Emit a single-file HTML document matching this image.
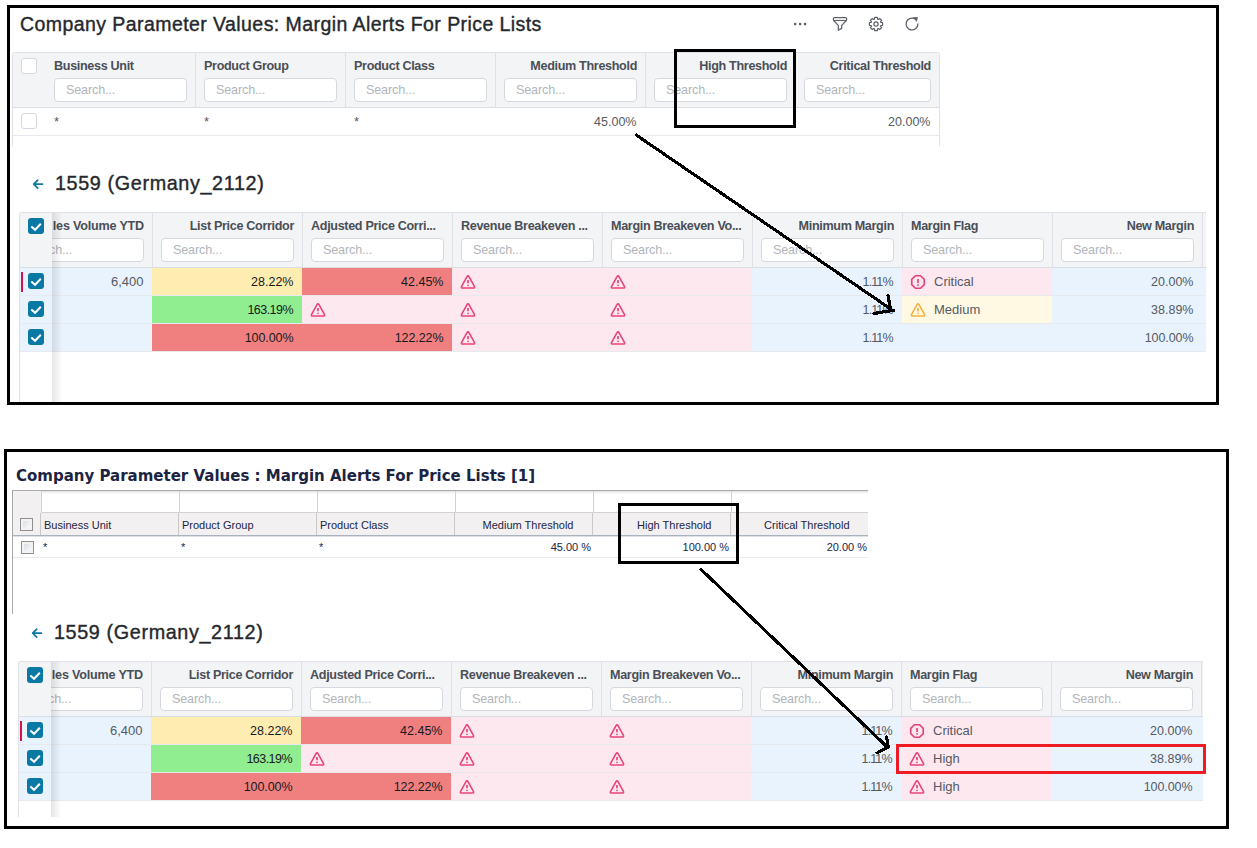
<!DOCTYPE html>
<html lang="en">
<head>
<meta charset="utf-8">
<title>Company Parameter Values: Margin Alerts For Price Lists</title>
<style>
*{box-sizing:border-box;margin:0;padding:0}
html,body{width:1257px;height:848px;overflow:hidden;background:#fff}
body{position:relative;font-family:"Liberation Sans",Arial,sans-serif;color:#2b2f36}
.abs{position:absolute}
.frame{position:absolute;border:3px solid #000;z-index:20;pointer-events:none}
/* modern UI */
.m-title{position:absolute;white-space:nowrap;font-size:19.5px;line-height:24px;letter-spacing:.43px;color:#25282d;-webkit-text-stroke:.38px #25282d}
.m-sub{position:absolute;white-space:nowrap;font-size:19.8px;line-height:24px;letter-spacing:.62px;color:#25282d;-webkit-text-stroke:.38px #25282d}
.m-grid{position:absolute;background:#fff}
.m-head{position:absolute;left:0;top:0;height:56px;background:#f3f4f6;border-top:1px solid #dfe1e6;border-bottom:1px solid #d9dce1}
.m-sep{position:absolute;top:1px;width:1px;height:54px;background:#dfe1e6}
.m-lbl{position:absolute;top:6px;height:16px;line-height:16px;font-size:12.6px;letter-spacing:-.33px;font-weight:bold;color:#4a4f57;white-space:nowrap}
.m-lbl.r{text-align:right}
.m-in{position:absolute;top:26px;height:24px;border:1px solid #d5d8de;border-radius:4px;background:#fff;font-size:12.6px;letter-spacing:-.15px;line-height:22px;color:#b1b5bc;padding-left:11px;white-space:nowrap;overflow:hidden}
.m-cell{position:absolute;height:28px;line-height:28px;font-size:13px;white-space:nowrap;color:#555a63}
.m-cell.r{text-align:right}
.m-cell.p{font-size:12.5px}
.m-cell.d{color:#17191d}
.m-row{position:absolute;left:0;height:28px;border-bottom:1px solid #e6e9ee}
.cb{position:absolute;width:16px;height:16px;border:1px solid #d5d8de;border-radius:3px;background:#fff}
.cbx{position:absolute;width:16px;height:16px;border-radius:3px;background:#0878a5}
.cbx svg{position:absolute;left:0;top:0}
.ico{position:absolute}
/* classic UI */
.c-title{position:absolute;white-space:nowrap;font-family:"DejaVu Sans","Liberation Sans",sans-serif;font-weight:bold;font-size:15px;line-height:20px;color:#1b2443}
.c-txt{position:absolute;white-space:nowrap;font-size:11px;line-height:14px;color:#1d2545}
.c-cb{position:absolute;width:13px;height:13px;border:1px solid #8e8f8f;background:linear-gradient(135deg,#d3d7dc 0%,#eef0f2 60%,#fff 100%);box-shadow:inset 0 0 0 2px #f3f3f3}

</style>
</head>
<body>
<div class="m-title" style="left:20px;top:11.5px">Company Parameter Values: Margin Alerts For Price Lists</div>
<svg class="abs" style="left:792px;top:20px" width="16" height="8" viewBox="0 0 16 8"><circle cx="3.2" cy="4.1" r="1.3" fill="#5d626b"/><circle cx="8.1" cy="4.1" r="1.3" fill="#5d626b"/><circle cx="13" cy="4.1" r="1.3" fill="#5d626b"/></svg>
<svg class="abs" style="left:832px;top:16px" width="16" height="16" viewBox="0 0 16 16"><path d="M2.4 1.5 H13.6 Q14.6 1.5 14.6 2.5 V3.6 Q14.6 4.2 14.2 4.7 L9.7 9.4 V12.4 L6.3 14.3 V9.4 L1.8 4.7 Q1.4 4.2 1.4 3.6 V2.5 Q1.4 1.5 2.4 1.5 Z" fill="none" stroke="#5d626b" stroke-width="1.25" stroke-linejoin="round"/><path d="M1.6 4.5 H14.4" stroke="#5d626b" stroke-width="1.1"/></svg>
<svg class="abs" style="left:868px;top:16px" width="16" height="16" viewBox="0 0 16 16"><path d="M6.67 1.43 L9.33 1.43 L9.51 3.13 L10.38 3.49 L11.70 2.42 L13.58 4.30 L12.51 5.62 L12.87 6.49 L14.57 6.67 L14.57 9.33 L12.87 9.51 L12.51 10.38 L13.58 11.70 L11.70 13.58 L10.38 12.51 L9.51 12.87 L9.33 14.57 L6.67 14.57 L6.49 12.87 L5.62 12.51 L4.30 13.58 L2.42 11.70 L3.49 10.38 L3.13 9.51 L1.43 9.33 L1.43 6.67 L3.13 6.49 L3.49 5.62 L2.42 4.30 L4.30 2.42 L5.62 3.49 L6.49 3.13 Z" fill="none" stroke="#5d626b" stroke-width="1.2" stroke-linejoin="round"/><circle cx="8" cy="8" r="2.1" fill="none" stroke="#5d626b" stroke-width="1.2"/></svg>
<svg class="abs" style="left:904px;top:16px" width="16" height="16" viewBox="0 0 16 16"><path d="M13.9 8 A5.9 5.9 0 1 1 10.6 2.7" fill="none" stroke="#5d626b" stroke-width="1.3" stroke-linecap="round"/><path d="M8.9 0.9 L14 1.3 L12.7 5.9 Z" fill="#5d626b"/></svg>
<div class="m-grid" style="left:12px;top:52px;width:928px;height:94px;overflow:hidden;border-left:1px solid #dfe1e6;border-right:1px solid #dfe1e6;border-radius:3px 3px 0 0">
<div class="m-head" style="width:928px"></div>
<div class="cb" style="left:8px;top:6px"></div>
<div class="cb" style="left:8px;top:61px"></div>
<div class="m-sep" style="left:182px"></div>
<div class="m-lbl" style="left:41px">Business Unit</div>
<div class="m-in" style="left:41px;width:133px">Search...</div>
<div class="m-cell" style="left:41px;top:56px">*</div>
<div class="m-sep" style="left:332px"></div>
<div class="m-lbl" style="left:191px">Product Group</div>
<div class="m-in" style="left:191px;width:133px">Search...</div>
<div class="m-cell" style="left:191px;top:56px">*</div>
<div class="m-sep" style="left:482px"></div>
<div class="m-lbl" style="left:341px">Product Class</div>
<div class="m-in" style="left:341px;width:133px">Search...</div>
<div class="m-cell" style="left:341px;top:56px">*</div>
<div class="m-sep" style="left:632px"></div>
<div class="m-lbl r" style="left:491px;width:133px">Medium Threshold</div>
<div class="m-in" style="left:491px;width:133px">Search...</div>
<div class="m-cell r p" style="left:491px;top:56px;width:132.5px">45.00%</div>
<div class="m-sep" style="left:782px"></div>
<div class="m-lbl r" style="left:641px;width:133px">High Threshold</div>
<div class="m-in" style="left:641px;width:133px">Search...</div>
<div class="m-lbl r" style="left:791px;width:127px">Critical Threshold</div>
<div class="m-in" style="left:791px;width:127px">Search...</div>
<div class="m-cell r p" style="left:791px;top:56px;width:126.5px">20.00%</div>
<div class="abs" style="left:0;top:83px;width:928px;height:1px;background:#e6e9ee"></div>
</div>
<svg class="abs" style="left:32px;top:178px" width="12" height="12" viewBox="0 0 12 12"><path d="M10.4 6.2 H2 M5.7 2.2 L1.7 6.2 L5.7 10.2" fill="none" stroke="#0b79a3" stroke-width="1.75" stroke-linecap="round" stroke-linejoin="round"/></svg>
<div class="m-sub" style="left:55px;top:171px">1559 (Germany_2112)</div>
<div class="m-grid" style="left:19px;top:212px;width:1187px;height:190px;overflow:hidden;border-left:1px solid #dfe1e6;border-top-left-radius:3px">
<div class="m-head" style="width:1187px"></div>
<div class="m-sep" style="left:132px"></div>
<div class="m-lbl r" style="left:-9px;width:133px"><span style="letter-spacing:-.2px"><span style="margin-right:3px">Sa</span>les Volume YTD</span></div>
<div class="m-in" style="left:-9px;width:133px">Search...</div>
<div class="m-sep" style="left:282px"></div>
<div class="m-lbl r" style="left:141px;width:133px">List Price Corridor</div>
<div class="m-in" style="left:141px;width:133px">Search...</div>
<div class="m-sep" style="left:432px"></div>
<div class="m-lbl" style="left:291px">Adjusted Price Corri...</div>
<div class="m-in" style="left:291px;width:133px">Search...</div>
<div class="m-sep" style="left:582px"></div>
<div class="m-lbl" style="left:441px">Revenue Breakeven ...</div>
<div class="m-in" style="left:441px;width:133px">Search...</div>
<div class="m-sep" style="left:732px"></div>
<div class="m-lbl" style="left:591px">Margin Breakeven Vo...</div>
<div class="m-in" style="left:591px;width:133px">Search...</div>
<div class="m-sep" style="left:882px"></div>
<div class="m-lbl r" style="left:741px;width:133px">Minimum Margin</div>
<div class="m-in" style="left:741px;width:133px">Search...</div>
<div class="m-sep" style="left:1032px"></div>
<div class="m-lbl" style="left:891px">Margin Flag</div>
<div class="m-in" style="left:891px;width:133px">Search...</div>
<div class="m-sep" style="left:1182px"></div>
<div class="m-lbl r" style="left:1041px;width:133px">New Margin</div>
<div class="m-in" style="left:1041px;width:133px">Search...</div>
<div class="m-row" style="top:56px;width:1187px;background:#e8f3fe"></div>
<div class="m-cell r" style="left:-9px;top:56px;width:132.5px">6,400</div>
<div class="abs" style="left:132px;top:56px;width:150px;height:27px;background:#fdedb0"></div>
<div class="m-cell r p d" style="left:141px;top:56px;width:132.5px">28.22%</div>
<div class="abs" style="left:282px;top:56px;width:150px;height:27px;background:#f08080"></div>
<div class="m-cell r p d" style="left:291px;top:56px;width:132.5px">42.45%</div>
<div class="abs" style="left:432px;top:56px;width:150px;height:27px;background:#fde8ef"></div>
<svg class="ico" style="left:440px;top:63px" width="16" height="15" viewBox="0 0 16 15"><path d="M6.87 1.90 Q8.00 -0.10 9.13 1.90 L14.27 11.05 Q15.40 13.05 13.10 13.05 L2.90 13.05 Q0.60 13.05 1.73 11.05 Z" fill="none" stroke="#e7447b" stroke-width="1.6" stroke-linejoin="round"/><path d="M8 4.9 V8.2" stroke="#e7447b" stroke-width="1.7"/><circle cx="8" cy="10.3" r=".85" fill="#e7447b"/></svg>
<div class="abs" style="left:582px;top:56px;width:150px;height:27px;background:#fde8ef"></div>
<svg class="ico" style="left:590px;top:63px" width="16" height="15" viewBox="0 0 16 15"><path d="M6.87 1.90 Q8.00 -0.10 9.13 1.90 L14.27 11.05 Q15.40 13.05 13.10 13.05 L2.90 13.05 Q0.60 13.05 1.73 11.05 Z" fill="none" stroke="#e7447b" stroke-width="1.6" stroke-linejoin="round"/><path d="M8 4.9 V8.2" stroke="#e7447b" stroke-width="1.7"/><circle cx="8" cy="10.3" r=".85" fill="#e7447b"/></svg>
<div class="m-cell r p" style="left:741px;top:56px;width:132.5px;letter-spacing:-0.9px;padding-right:0.9px">1.11%</div>
<div class="abs" style="left:882px;top:56px;width:150px;height:27px;background:#fde8ef"></div>
<svg class="ico" style="left:890px;top:62px" width="16" height="16" viewBox="0 0 16 16"><path d="M5.4 1.75 H10.6 L14.25 5.4 V10.6 L10.6 14.25 H5.4 L1.75 10.6 V5.4 Z" fill="none" stroke="#e7447b" stroke-width="1.7" stroke-linejoin="round"/><path d="M8 5.1 V8.9" stroke="#e7447b" stroke-width="1.7"/><circle cx="8" cy="10.9" r=".9" fill="#e7447b"/></svg>
<div class="m-cell" style="left:914px;top:56px">Critical</div>
<div class="m-cell r p" style="left:1041px;top:56px;width:132.5px">20.00%</div>
<div class="m-row" style="top:84px;width:1187px;background:#e8f3fe"></div>
<div class="abs" style="left:132px;top:84px;width:150px;height:27px;background:#90ee90"></div>
<div class="m-cell r p d" style="left:141px;top:84px;width:132.5px;letter-spacing:-0.55px;padding-right:0.55px">163.19%</div>
<div class="abs" style="left:282px;top:84px;width:150px;height:27px;background:#fde8ef"></div>
<svg class="ico" style="left:290px;top:91px" width="16" height="15" viewBox="0 0 16 15"><path d="M6.87 1.90 Q8.00 -0.10 9.13 1.90 L14.27 11.05 Q15.40 13.05 13.10 13.05 L2.90 13.05 Q0.60 13.05 1.73 11.05 Z" fill="none" stroke="#e7447b" stroke-width="1.6" stroke-linejoin="round"/><path d="M8 4.9 V8.2" stroke="#e7447b" stroke-width="1.7"/><circle cx="8" cy="10.3" r=".85" fill="#e7447b"/></svg>
<div class="abs" style="left:432px;top:84px;width:150px;height:27px;background:#fde8ef"></div>
<svg class="ico" style="left:440px;top:91px" width="16" height="15" viewBox="0 0 16 15"><path d="M6.87 1.90 Q8.00 -0.10 9.13 1.90 L14.27 11.05 Q15.40 13.05 13.10 13.05 L2.90 13.05 Q0.60 13.05 1.73 11.05 Z" fill="none" stroke="#e7447b" stroke-width="1.6" stroke-linejoin="round"/><path d="M8 4.9 V8.2" stroke="#e7447b" stroke-width="1.7"/><circle cx="8" cy="10.3" r=".85" fill="#e7447b"/></svg>
<div class="abs" style="left:582px;top:84px;width:150px;height:27px;background:#fde8ef"></div>
<svg class="ico" style="left:590px;top:91px" width="16" height="15" viewBox="0 0 16 15"><path d="M6.87 1.90 Q8.00 -0.10 9.13 1.90 L14.27 11.05 Q15.40 13.05 13.10 13.05 L2.90 13.05 Q0.60 13.05 1.73 11.05 Z" fill="none" stroke="#e7447b" stroke-width="1.6" stroke-linejoin="round"/><path d="M8 4.9 V8.2" stroke="#e7447b" stroke-width="1.7"/><circle cx="8" cy="10.3" r=".85" fill="#e7447b"/></svg>
<div class="m-cell r p" style="left:741px;top:84px;width:132.5px;letter-spacing:-0.9px;padding-right:0.9px">1.11%</div>
<div class="abs" style="left:882px;top:84px;width:150px;height:27px;background:#fff8e3"></div>
<svg class="ico" style="left:890px;top:91px" width="16" height="15" viewBox="0 0 16 15"><path d="M6.87 1.90 Q8.00 -0.10 9.13 1.90 L14.27 11.05 Q15.40 13.05 13.10 13.05 L2.90 13.05 Q0.60 13.05 1.73 11.05 Z" fill="none" stroke="#f5b23f" stroke-width="1.6" stroke-linejoin="round"/><path d="M8 4.9 V8.2" stroke="#f5b23f" stroke-width="1.7"/><circle cx="8" cy="10.3" r=".85" fill="#f5b23f"/></svg>
<div class="m-cell" style="left:914px;top:84px">Medium</div>
<div class="m-cell r p" style="left:1041px;top:84px;width:132.5px">38.89%</div>
<div class="m-row" style="top:112px;width:1187px;background:#e8f3fe"></div>
<div class="abs" style="left:132px;top:112px;width:150px;height:27px;background:#f08080"></div>
<div class="m-cell r p d" style="left:141px;top:112px;width:132.5px;letter-spacing:-0.1px;padding-right:0.1px">100.00%</div>
<div class="abs" style="left:282px;top:112px;width:150px;height:27px;background:#f08080"></div>
<div class="m-cell r p d" style="left:291px;top:112px;width:132.5px;letter-spacing:-0.1px;padding-right:0.1px">122.22%</div>
<div class="abs" style="left:432px;top:112px;width:150px;height:27px;background:#fde8ef"></div>
<svg class="ico" style="left:440px;top:119px" width="16" height="15" viewBox="0 0 16 15"><path d="M6.87 1.90 Q8.00 -0.10 9.13 1.90 L14.27 11.05 Q15.40 13.05 13.10 13.05 L2.90 13.05 Q0.60 13.05 1.73 11.05 Z" fill="none" stroke="#e7447b" stroke-width="1.6" stroke-linejoin="round"/><path d="M8 4.9 V8.2" stroke="#e7447b" stroke-width="1.7"/><circle cx="8" cy="10.3" r=".85" fill="#e7447b"/></svg>
<div class="abs" style="left:582px;top:112px;width:150px;height:27px;background:#fde8ef"></div>
<svg class="ico" style="left:590px;top:119px" width="16" height="15" viewBox="0 0 16 15"><path d="M6.87 1.90 Q8.00 -0.10 9.13 1.90 L14.27 11.05 Q15.40 13.05 13.10 13.05 L2.90 13.05 Q0.60 13.05 1.73 11.05 Z" fill="none" stroke="#e7447b" stroke-width="1.6" stroke-linejoin="round"/><path d="M8 4.9 V8.2" stroke="#e7447b" stroke-width="1.7"/><circle cx="8" cy="10.3" r=".85" fill="#e7447b"/></svg>
<div class="m-cell r p" style="left:741px;top:112px;width:132.5px;letter-spacing:-0.9px;padding-right:0.9px">1.11%</div>
<div class="m-cell r p" style="left:1041px;top:112px;width:132.5px;letter-spacing:-0.1px;padding-right:0.1px">100.00%</div>
<div class="abs" style="left:32px;top:1px;width:10px;height:190px;background:linear-gradient(90deg,rgba(0,0,0,.10),rgba(0,0,0,0))"></div>
<div class="abs" style="left:0;top:1px;width:32px;height:54px;background:#f3f4f6"></div>
<div class="abs" style="left:0;top:56px;width:32px;height:190px;background:#fff"></div>
<div class="abs" style="left:0;top:56px;width:32px;height:27px;background:#e8f3fe"></div>
<div class="abs" style="left:0;top:83px;width:32px;height:1px;background:#e6e9ee"></div>
<div class="cbx" style="left:8px;top:61px"><svg width="16" height="16" viewBox="0 0 16 16"><path d="M3.3 8.4 L7.1 11.8 L12.8 5.8" fill="none" stroke="#fff" stroke-width="2"/></svg></div>
<div class="abs" style="left:0;top:84px;width:32px;height:27px;background:#e8f3fe"></div>
<div class="abs" style="left:0;top:111px;width:32px;height:1px;background:#e6e9ee"></div>
<div class="cbx" style="left:8px;top:89px"><svg width="16" height="16" viewBox="0 0 16 16"><path d="M3.3 8.4 L7.1 11.8 L12.8 5.8" fill="none" stroke="#fff" stroke-width="2"/></svg></div>
<div class="abs" style="left:0;top:112px;width:32px;height:27px;background:#e8f3fe"></div>
<div class="abs" style="left:0;top:139px;width:32px;height:1px;background:#e6e9ee"></div>
<div class="cbx" style="left:8px;top:117px"><svg width="16" height="16" viewBox="0 0 16 16"><path d="M3.3 8.4 L7.1 11.8 L12.8 5.8" fill="none" stroke="#fff" stroke-width="2"/></svg></div>
<div class="abs" style="left:0;top:55px;width:32px;height:1px;background:#d9dce1"></div>
<div class="cbx" style="left:8px;top:6px"><svg width="16" height="16" viewBox="0 0 16 16"><path d="M3.3 8.4 L7.1 11.8 L12.8 5.8" fill="none" stroke="#fff" stroke-width="2"/></svg></div>
<div class="abs" style="left:1px;top:60px;width:2px;height:20px;background:#d5104b"></div>
</div>
<div class="c-title" style="left:16px;top:466px">Company Parameter Values : Margin Alerts For Price Lists [1]</div>
<div class="abs" style="left:12px;top:490px;width:856px;height:124px;overflow:hidden;border-left:1px solid #a9a9a9;border-top:1px solid #a9a9a9;background:#fff">
<div class="abs" style="left:0;top:0;width:856px;height:3px;background:linear-gradient(180deg,#e2e2e2,#fff)"></div>
<div class="abs" style="left:0;top:0;width:28px;height:45px;background:#f2f0f1"></div>
<div class="abs" style="left:28px;top:22px;width:856px;height:23px;background:#f2f0f1"></div>
<div class="abs" style="left:28px;top:0;width:1px;height:22px;background:#d2d2d2"></div>
<div class="abs" style="left:27px;top:22px;width:1px;height:23px;background:#c8c8c8"></div>
<div class="abs" style="left:166px;top:0;width:1px;height:22px;background:#d2d2d2"></div>
<div class="abs" style="left:165px;top:22px;width:1px;height:23px;background:#c8c8c8"></div>
<div class="abs" style="left:304px;top:0;width:1px;height:22px;background:#d2d2d2"></div>
<div class="abs" style="left:303px;top:22px;width:1px;height:23px;background:#c8c8c8"></div>
<div class="abs" style="left:442px;top:0;width:1px;height:22px;background:#d2d2d2"></div>
<div class="abs" style="left:441px;top:22px;width:1px;height:23px;background:#c8c8c8"></div>
<div class="abs" style="left:580px;top:0;width:1px;height:22px;background:#d2d2d2"></div>
<div class="abs" style="left:579px;top:22px;width:1px;height:23px;background:#c8c8c8"></div>
<div class="abs" style="left:718px;top:0;width:1px;height:22px;background:#d2d2d2"></div>
<div class="abs" style="left:717px;top:22px;width:1px;height:23px;background:#c8c8c8"></div>
<div class="abs" style="left:28px;top:21px;width:856px;height:1px;background:#d2d2d2"></div>
<div class="abs" style="left:0;top:44px;width:856px;height:1px;background:#a9b3c0"></div>
<div class="abs" style="left:0;top:45px;width:856px;height:1px;background:#dde1e7"></div>
<div class="abs" style="left:0;top:66px;width:856px;height:1px;background:#e9e9e9"></div>
<div class="c-cb" style="left:7px;top:27px"></div>
<div class="c-cb" style="left:8px;top:50px"></div>
<div class="c-txt" style="left:31px;top:27px">Business Unit</div>
<div class="c-txt" style="left:30px;top:49px">*</div>
<div class="c-txt" style="left:169px;top:27px">Product Group</div>
<div class="c-txt" style="left:168px;top:49px">*</div>
<div class="c-txt" style="left:307px;top:27px">Product Class</div>
<div class="c-txt" style="left:306px;top:49px">*</div>
<div class="c-txt" style="left:442px;top:27px;width:118.5px;text-align:right">Medium Threshold</div>
<div class="c-txt" style="left:442px;top:49px;width:136px;text-align:right">45.00 %</div>
<div class="c-txt" style="left:580px;top:27px;width:118.5px;text-align:right">High Threshold</div>
<div class="c-txt" style="left:580px;top:49px;width:136px;text-align:right">100.00 %</div>
<div class="c-txt" style="left:718px;top:27px;width:118.5px;text-align:right">Critical Threshold</div>
<div class="c-txt" style="left:718px;top:49px;width:136px;text-align:right">20.00 %</div>
</div>
<svg class="abs" style="left:31px;top:627px" width="12" height="12" viewBox="0 0 12 12"><path d="M10.4 6.2 H2 M5.7 2.2 L1.7 6.2 L5.7 10.2" fill="none" stroke="#0b79a3" stroke-width="1.75" stroke-linecap="round" stroke-linejoin="round"/></svg>
<div class="m-sub" style="left:54px;top:620px">1559 (Germany_2112)</div>
<div class="m-grid" style="left:18px;top:661px;width:1185px;height:156px;overflow:hidden;border-left:1px solid #dfe1e6;border-top-left-radius:3px">
<div class="m-head" style="width:1185px"></div>
<div class="m-sep" style="left:132px"></div>
<div class="m-lbl r" style="left:-9px;width:133px"><span style="letter-spacing:-.2px"><span style="margin-right:3px">Sa</span>les Volume YTD</span></div>
<div class="m-in" style="left:-9px;width:133px">Search...</div>
<div class="m-sep" style="left:282px"></div>
<div class="m-lbl r" style="left:141px;width:133px">List Price Corridor</div>
<div class="m-in" style="left:141px;width:133px">Search...</div>
<div class="m-sep" style="left:432px"></div>
<div class="m-lbl" style="left:291px">Adjusted Price Corri...</div>
<div class="m-in" style="left:291px;width:133px">Search...</div>
<div class="m-sep" style="left:582px"></div>
<div class="m-lbl" style="left:441px">Revenue Breakeven ...</div>
<div class="m-in" style="left:441px;width:133px">Search...</div>
<div class="m-sep" style="left:732px"></div>
<div class="m-lbl" style="left:591px">Margin Breakeven Vo...</div>
<div class="m-in" style="left:591px;width:133px">Search...</div>
<div class="m-sep" style="left:882px"></div>
<div class="m-lbl r" style="left:741px;width:133px">Minimum Margin</div>
<div class="m-in" style="left:741px;width:133px">Search...</div>
<div class="m-sep" style="left:1032px"></div>
<div class="m-lbl" style="left:891px">Margin Flag</div>
<div class="m-in" style="left:891px;width:133px">Search...</div>
<div class="m-sep" style="left:1182px"></div>
<div class="m-lbl r" style="left:1041px;width:133px">New Margin</div>
<div class="m-in" style="left:1041px;width:133px">Search...</div>
<div class="m-row" style="top:56px;width:1185px;background:#e8f3fe"></div>
<div class="m-cell r" style="left:-9px;top:56px;width:132.5px">6,400</div>
<div class="abs" style="left:132px;top:56px;width:150px;height:27px;background:#fdedb0"></div>
<div class="m-cell r p d" style="left:141px;top:56px;width:132.5px">28.22%</div>
<div class="abs" style="left:282px;top:56px;width:150px;height:27px;background:#f08080"></div>
<div class="m-cell r p d" style="left:291px;top:56px;width:132.5px">42.45%</div>
<div class="abs" style="left:432px;top:56px;width:150px;height:27px;background:#fde8ef"></div>
<svg class="ico" style="left:440px;top:63px" width="16" height="15" viewBox="0 0 16 15"><path d="M6.87 1.90 Q8.00 -0.10 9.13 1.90 L14.27 11.05 Q15.40 13.05 13.10 13.05 L2.90 13.05 Q0.60 13.05 1.73 11.05 Z" fill="none" stroke="#e7447b" stroke-width="1.6" stroke-linejoin="round"/><path d="M8 4.9 V8.2" stroke="#e7447b" stroke-width="1.7"/><circle cx="8" cy="10.3" r=".85" fill="#e7447b"/></svg>
<div class="abs" style="left:582px;top:56px;width:150px;height:27px;background:#fde8ef"></div>
<svg class="ico" style="left:590px;top:63px" width="16" height="15" viewBox="0 0 16 15"><path d="M6.87 1.90 Q8.00 -0.10 9.13 1.90 L14.27 11.05 Q15.40 13.05 13.10 13.05 L2.90 13.05 Q0.60 13.05 1.73 11.05 Z" fill="none" stroke="#e7447b" stroke-width="1.6" stroke-linejoin="round"/><path d="M8 4.9 V8.2" stroke="#e7447b" stroke-width="1.7"/><circle cx="8" cy="10.3" r=".85" fill="#e7447b"/></svg>
<div class="m-cell r p" style="left:741px;top:56px;width:132.5px;letter-spacing:-0.9px;padding-right:0.9px">1.11%</div>
<div class="abs" style="left:882px;top:56px;width:150px;height:27px;background:#fde8ef"></div>
<svg class="ico" style="left:890px;top:62px" width="16" height="16" viewBox="0 0 16 16"><path d="M5.4 1.75 H10.6 L14.25 5.4 V10.6 L10.6 14.25 H5.4 L1.75 10.6 V5.4 Z" fill="none" stroke="#e7447b" stroke-width="1.7" stroke-linejoin="round"/><path d="M8 5.1 V8.9" stroke="#e7447b" stroke-width="1.7"/><circle cx="8" cy="10.9" r=".9" fill="#e7447b"/></svg>
<div class="m-cell" style="left:914px;top:56px">Critical</div>
<div class="m-cell r p" style="left:1041px;top:56px;width:132.5px">20.00%</div>
<div class="m-row" style="top:84px;width:1185px;background:#e8f3fe"></div>
<div class="abs" style="left:132px;top:84px;width:150px;height:27px;background:#90ee90"></div>
<div class="m-cell r p d" style="left:141px;top:84px;width:132.5px;letter-spacing:-0.55px;padding-right:0.55px">163.19%</div>
<div class="abs" style="left:282px;top:84px;width:150px;height:27px;background:#fde8ef"></div>
<svg class="ico" style="left:290px;top:91px" width="16" height="15" viewBox="0 0 16 15"><path d="M6.87 1.90 Q8.00 -0.10 9.13 1.90 L14.27 11.05 Q15.40 13.05 13.10 13.05 L2.90 13.05 Q0.60 13.05 1.73 11.05 Z" fill="none" stroke="#e7447b" stroke-width="1.6" stroke-linejoin="round"/><path d="M8 4.9 V8.2" stroke="#e7447b" stroke-width="1.7"/><circle cx="8" cy="10.3" r=".85" fill="#e7447b"/></svg>
<div class="abs" style="left:432px;top:84px;width:150px;height:27px;background:#fde8ef"></div>
<svg class="ico" style="left:440px;top:91px" width="16" height="15" viewBox="0 0 16 15"><path d="M6.87 1.90 Q8.00 -0.10 9.13 1.90 L14.27 11.05 Q15.40 13.05 13.10 13.05 L2.90 13.05 Q0.60 13.05 1.73 11.05 Z" fill="none" stroke="#e7447b" stroke-width="1.6" stroke-linejoin="round"/><path d="M8 4.9 V8.2" stroke="#e7447b" stroke-width="1.7"/><circle cx="8" cy="10.3" r=".85" fill="#e7447b"/></svg>
<div class="abs" style="left:582px;top:84px;width:150px;height:27px;background:#fde8ef"></div>
<svg class="ico" style="left:590px;top:91px" width="16" height="15" viewBox="0 0 16 15"><path d="M6.87 1.90 Q8.00 -0.10 9.13 1.90 L14.27 11.05 Q15.40 13.05 13.10 13.05 L2.90 13.05 Q0.60 13.05 1.73 11.05 Z" fill="none" stroke="#e7447b" stroke-width="1.6" stroke-linejoin="round"/><path d="M8 4.9 V8.2" stroke="#e7447b" stroke-width="1.7"/><circle cx="8" cy="10.3" r=".85" fill="#e7447b"/></svg>
<div class="m-cell r p" style="left:741px;top:84px;width:132.5px;letter-spacing:-0.9px;padding-right:0.9px">1.11%</div>
<div class="abs" style="left:882px;top:84px;width:150px;height:27px;background:#fde8ef"></div>
<svg class="ico" style="left:890px;top:91px" width="16" height="15" viewBox="0 0 16 15"><path d="M6.87 1.90 Q8.00 -0.10 9.13 1.90 L14.27 11.05 Q15.40 13.05 13.10 13.05 L2.90 13.05 Q0.60 13.05 1.73 11.05 Z" fill="none" stroke="#e7447b" stroke-width="1.6" stroke-linejoin="round"/><path d="M8 4.9 V8.2" stroke="#e7447b" stroke-width="1.7"/><circle cx="8" cy="10.3" r=".85" fill="#e7447b"/></svg>
<div class="m-cell" style="left:914px;top:84px">High</div>
<div class="m-cell r p" style="left:1041px;top:84px;width:132.5px">38.89%</div>
<div class="m-row" style="top:112px;width:1185px;background:#e8f3fe"></div>
<div class="abs" style="left:132px;top:112px;width:150px;height:27px;background:#f08080"></div>
<div class="m-cell r p d" style="left:141px;top:112px;width:132.5px;letter-spacing:-0.1px;padding-right:0.1px">100.00%</div>
<div class="abs" style="left:282px;top:112px;width:150px;height:27px;background:#f08080"></div>
<div class="m-cell r p d" style="left:291px;top:112px;width:132.5px;letter-spacing:-0.1px;padding-right:0.1px">122.22%</div>
<div class="abs" style="left:432px;top:112px;width:150px;height:27px;background:#fde8ef"></div>
<svg class="ico" style="left:440px;top:119px" width="16" height="15" viewBox="0 0 16 15"><path d="M6.87 1.90 Q8.00 -0.10 9.13 1.90 L14.27 11.05 Q15.40 13.05 13.10 13.05 L2.90 13.05 Q0.60 13.05 1.73 11.05 Z" fill="none" stroke="#e7447b" stroke-width="1.6" stroke-linejoin="round"/><path d="M8 4.9 V8.2" stroke="#e7447b" stroke-width="1.7"/><circle cx="8" cy="10.3" r=".85" fill="#e7447b"/></svg>
<div class="abs" style="left:582px;top:112px;width:150px;height:27px;background:#fde8ef"></div>
<svg class="ico" style="left:590px;top:119px" width="16" height="15" viewBox="0 0 16 15"><path d="M6.87 1.90 Q8.00 -0.10 9.13 1.90 L14.27 11.05 Q15.40 13.05 13.10 13.05 L2.90 13.05 Q0.60 13.05 1.73 11.05 Z" fill="none" stroke="#e7447b" stroke-width="1.6" stroke-linejoin="round"/><path d="M8 4.9 V8.2" stroke="#e7447b" stroke-width="1.7"/><circle cx="8" cy="10.3" r=".85" fill="#e7447b"/></svg>
<div class="m-cell r p" style="left:741px;top:112px;width:132.5px;letter-spacing:-0.9px;padding-right:0.9px">1.11%</div>
<div class="abs" style="left:882px;top:112px;width:150px;height:27px;background:#fde8ef"></div>
<svg class="ico" style="left:890px;top:119px" width="16" height="15" viewBox="0 0 16 15"><path d="M6.87 1.90 Q8.00 -0.10 9.13 1.90 L14.27 11.05 Q15.40 13.05 13.10 13.05 L2.90 13.05 Q0.60 13.05 1.73 11.05 Z" fill="none" stroke="#e7447b" stroke-width="1.6" stroke-linejoin="round"/><path d="M8 4.9 V8.2" stroke="#e7447b" stroke-width="1.7"/><circle cx="8" cy="10.3" r=".85" fill="#e7447b"/></svg>
<div class="m-cell" style="left:914px;top:112px">High</div>
<div class="m-cell r p" style="left:1041px;top:112px;width:132.5px;letter-spacing:-0.1px;padding-right:0.1px">100.00%</div>
<div class="abs" style="left:32px;top:1px;width:10px;height:156px;background:linear-gradient(90deg,rgba(0,0,0,.10),rgba(0,0,0,0))"></div>
<div class="abs" style="left:0;top:1px;width:32px;height:54px;background:#f3f4f6"></div>
<div class="abs" style="left:0;top:56px;width:32px;height:156px;background:#fff"></div>
<div class="abs" style="left:0;top:56px;width:32px;height:27px;background:#e8f3fe"></div>
<div class="abs" style="left:0;top:83px;width:32px;height:1px;background:#e6e9ee"></div>
<div class="cbx" style="left:8px;top:61px"><svg width="16" height="16" viewBox="0 0 16 16"><path d="M3.3 8.4 L7.1 11.8 L12.8 5.8" fill="none" stroke="#fff" stroke-width="2"/></svg></div>
<div class="abs" style="left:0;top:84px;width:32px;height:27px;background:#e8f3fe"></div>
<div class="abs" style="left:0;top:111px;width:32px;height:1px;background:#e6e9ee"></div>
<div class="cbx" style="left:8px;top:89px"><svg width="16" height="16" viewBox="0 0 16 16"><path d="M3.3 8.4 L7.1 11.8 L12.8 5.8" fill="none" stroke="#fff" stroke-width="2"/></svg></div>
<div class="abs" style="left:0;top:112px;width:32px;height:27px;background:#e8f3fe"></div>
<div class="abs" style="left:0;top:139px;width:32px;height:1px;background:#e6e9ee"></div>
<div class="cbx" style="left:8px;top:117px"><svg width="16" height="16" viewBox="0 0 16 16"><path d="M3.3 8.4 L7.1 11.8 L12.8 5.8" fill="none" stroke="#fff" stroke-width="2"/></svg></div>
<div class="abs" style="left:0;top:55px;width:32px;height:1px;background:#d9dce1"></div>
<div class="cbx" style="left:8px;top:6px"><svg width="16" height="16" viewBox="0 0 16 16"><path d="M3.3 8.4 L7.1 11.8 L12.8 5.8" fill="none" stroke="#fff" stroke-width="2"/></svg></div>
<div class="abs" style="left:1px;top:60px;width:2px;height:20px;background:#d5104b"></div>
</div>
<div class="abs" style="left:674px;top:49px;width:122px;height:79px;border:3px solid #000;z-index:15"></div>
<div class="abs" style="left:618px;top:503px;width:121px;height:61px;border:3px solid #000;z-index:15"></div>
<div class="abs" style="left:896px;top:744px;width:310px;height:30px;border:3px solid #ed1c24;z-index:15"></div>
<svg class="abs" style="left:0;top:0;z-index:16" width="1257" height="848" viewBox="0 0 1257 848" fill="none" stroke="#000" stroke-linecap="round" shape-rendering="crispEdges"><path d="M636.2 135 L891 309.2" stroke-width="3.1"/><path d="M888 295.5 L890.5 309" stroke-width="3.2"/><path d="M874 313.6 L884.5 311.6 L893.5 310.4" stroke-width="3.2"/><path d="M701 569.4 L887.2 747" stroke-width="3.1"/><path d="M886.6 737 L888.2 747" stroke-width="3.1"/><path d="M877 753 L888.5 747" stroke-width="3.1"/></svg>
<div class="frame" style="left:7px;top:5px;width:1212px;height:400px"></div>
<div class="frame" style="left:4px;top:449px;width:1225px;height:380px"></div>
</body>
</html>
